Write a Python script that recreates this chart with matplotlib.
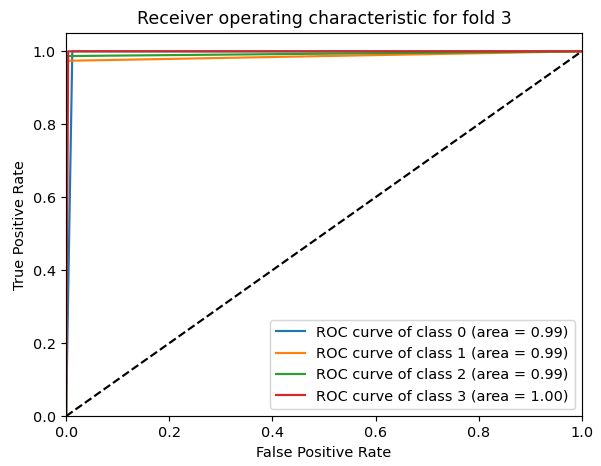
import matplotlib
matplotlib.use("Agg")
import matplotlib.pyplot as plt

# ROC points
fpr_0 = [0.0, 0.012, 1.0]
tpr_0 = [0.0, 1.0, 1.0]
fpr_1 = [0.0, 0.0, 1.0]
tpr_1 = [0.0, 0.974, 1.0]
fpr_2 = [0.0, 0.0, 1.0]
tpr_2 = [0.0, 0.987, 1.0]
fpr_3 = [0.0, 0.004, 1.0]
tpr_3 = [0.0, 1.0, 1.0]
areas = [0.99, 0.99, 0.99, 1.00]

curves = [(fpr_0, tpr_0), (fpr_1, tpr_1), (fpr_2, tpr_2), (fpr_3, tpr_3)]

DPI = 104
fig = plt.figure(figsize=(601 / DPI, 466 / DPI), dpi=DPI)
ax = fig.add_axes([0.11, 0.107, 0.858, 0.822])
for i, (fpr, tpr) in enumerate(curves):
    ax.plot(fpr, tpr, label='ROC curve of class %d (area = %0.2f)' % (i, areas[i]))
ax.plot([0, 1], [0, 1], 'k--')
ax.set_xlim([0.0, 1.0])
ax.set_ylim([0.0, 1.05])
ax.set_xlabel('False Positive Rate')
ax.set_ylabel('True Positive Rate')
ax.set_title('Receiver operating characteristic for fold 3')
ax.legend(loc='lower right')
fig.savefig('out.png', dpi=DPI)
